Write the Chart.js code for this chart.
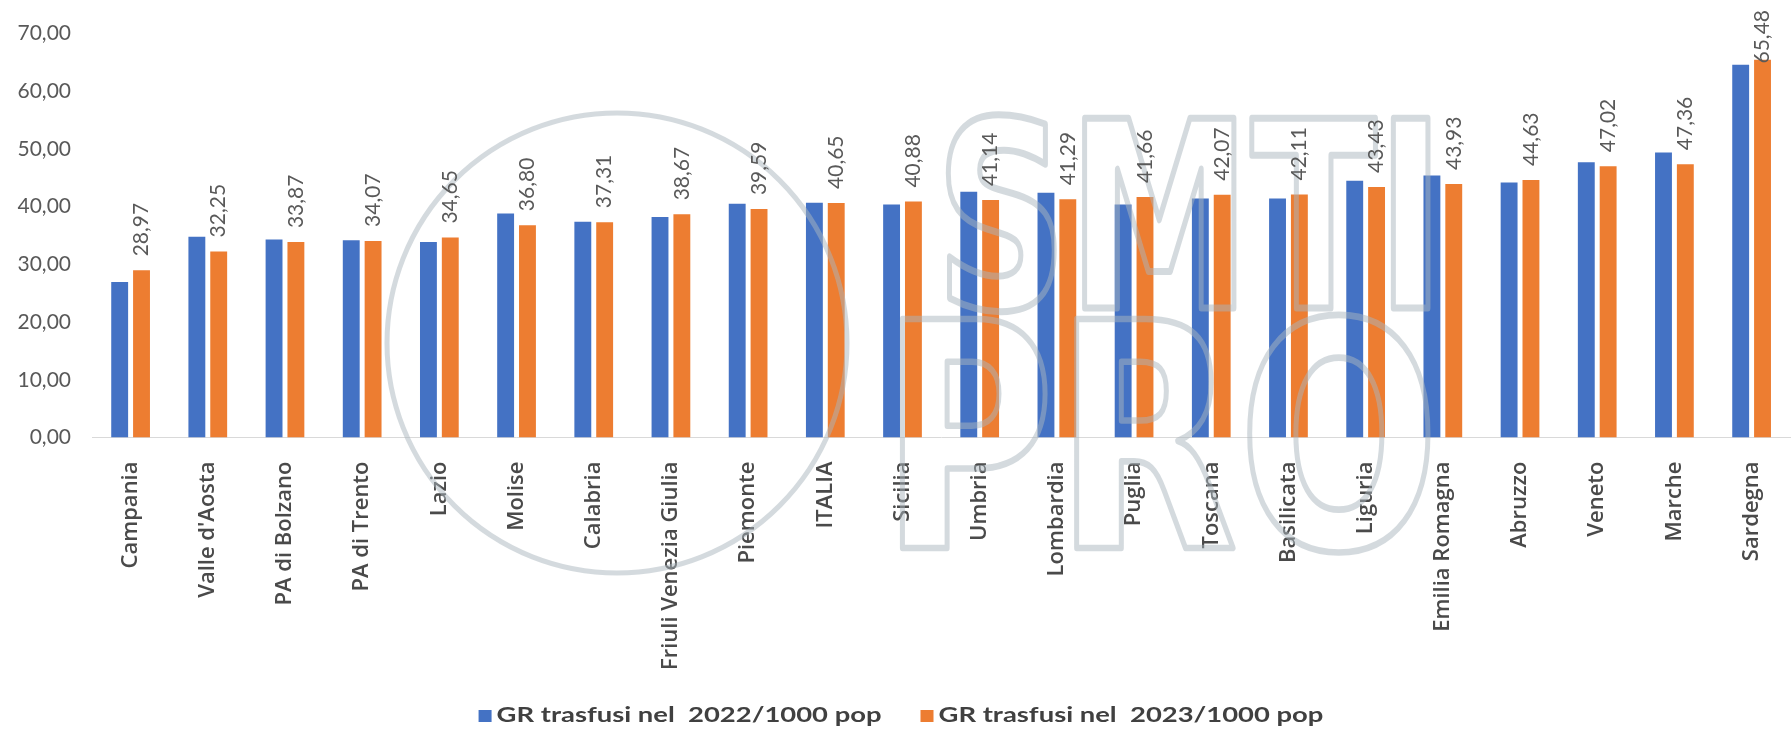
<!DOCTYPE html>
<html>
<head>
<meta charset="utf-8">
<script src="https://cdn.jsdelivr.net/npm/chart.js@4.4.1/dist/chart.umd.min.js"></script>
<style>
  html, body { margin: 0; padding: 0; background: #ffffff; overflow: hidden; }
  #wrap { position: relative; width: 1802px; height: 735px; }
</style>
</head>
<body>
<div id="wrap"><canvas id="chart"></canvas></div>
<script>
// Regions, ordered by the 2023 rate
const regions = ['Campania', "Valle d'Aosta", 'PA di Bolzano', 'PA di Trento', 'Lazio', 'Molise',
  'Calabria', 'Friuli Venezia Giulia', 'Piemonte', 'ITALIA', 'Sicilia', 'Umbria', 'Lombardia',
  'Puglia', 'Toscana', 'Basilicata', 'Liguria', 'Emilia Romagna', 'Abruzzo', 'Veneto', 'Marche', 'Sardegna'];

// Red cell units transfused per 1000 inhabitants
const gr2022 = [26.97, 34.80, 34.30, 34.20, 33.90, 38.80, 37.40, 38.20, 40.50, 40.70, 40.40,
  42.60, 42.40, 40.40, 41.40, 41.40, 44.50, 45.40, 44.20, 47.70, 49.40, 64.60];
const gr2023 = [28.97, 32.25, 33.87, 34.07, 34.65, 36.80, 37.31, 38.67, 39.59, 40.65, 40.88,
  41.14, 41.29, 41.66, 42.07, 42.11, 43.43, 43.93, 44.63, 47.02, 47.36, 65.48];

const yTicks = [0, 10, 20, 30, 40, 50, 60, 70];
const seriesNames = ['GR trasfusi nel  2022/1000 pop', 'GR trasfusi nel  2023/1000 pop'];
const seriesColors = ['#4472C4', '#ED7D31'];

const fmt = v => v.toFixed(2).replace('.', ',');

// Faint outlined society mark behind the labels
const watermark = {
  id: 'watermark',
  afterDatasetsDraw(chart) {
    const ctx = chart.ctx;
    const outlined = (txt, left, bottom, w, h) => {
      ctx.font = 'bold 200px "DejaVu Sans"';
      const m = ctx.measureText(txt);
      const tw = m.actualBoundingBoxRight + m.actualBoundingBoxLeft;
      const th = m.actualBoundingBoxAscent;
      ctx.save();
      ctx.translate(left, bottom);
      ctx.scale(w / tw, h / th);
      ctx.lineWidth = 5 * tw / w;
      ctx.strokeText(txt, m.actualBoundingBoxLeft, 0);
      ctx.restore();
    };
    ctx.save();
    ctx.globalAlpha = 0.5;
    ctx.strokeStyle = '#aab6bd';
    ctx.lineJoin = 'round';
    outlined('SMTI', 948, 308, 480, 194);
    outlined('PRO', 902, 548, 526, 234);
    ctx.lineWidth = 5;
    ctx.beginPath();
    ctx.arc(617, 343, 230, 0, Math.PI * 2);
    ctx.stroke();
    ctx.restore();
  }
};

// Vertical value labels above the 2023 bars
const valueLabels = {
  id: 'valueLabels',
  afterDatasetsDraw(chart) {
    const meta = chart.getDatasetMeta(1);
    const ctx = chart.ctx;
    ctx.save();
    ctx.font = '21px Lato';
    ctx.fillStyle = '#595959';
    ctx.textAlign = 'left';
    ctx.textBaseline = 'middle';
    meta.data.forEach((bar, i) => {
      const txt = fmt(gr2023[i]);
      const w = ctx.measureText(txt).width;
      let y0 = bar.y - 14;
      if (y0 - w < 10) y0 = w + 10;   // keep the tallest label inside the canvas
      ctx.save();
      ctx.translate(bar.x, y0);
      ctx.rotate(-Math.PI / 2);
      ctx.fillText(txt, 0, 0);
      ctx.restore();
    });
    ctx.restore();
  }
};

// Legend below the axis labels, with wide bold lettering
const wideLegend = {
  id: 'wideLegend',
  afterDraw(chart) {
    const ctx = chart.ctx;
    const sx = 1.37, box = 13, gapText = 5, gapItem = 39;
    const yMid = chart.height - 19;
    ctx.save();
    ctx.font = 'bold 20px Lato';
    ctx.textBaseline = 'middle';
    ctx.textAlign = 'left';
    const widths = seriesNames.map(t => ctx.measureText(t).width * sx);
    const total = widths.reduce((a, w) => a + box + gapText + w, 0) + gapItem * (seriesNames.length - 1);
    let x = chart.width / 2 - total / 2;
    seriesNames.forEach((t, i) => {
      ctx.fillStyle = seriesColors[i];
      ctx.fillRect(x, yMid - 6, box, 12);
      ctx.fillStyle = '#404040';
      ctx.save();
      ctx.translate(x + box + gapText, yMid);
      ctx.scale(sx, 1);
      ctx.fillText(t, 0, 0);
      ctx.restore();
      x += box + gapText + widths[i] + gapItem;
    });
    ctx.restore();
  }
};

new Chart(document.getElementById('chart'), {
  type: 'bar',
  data: {
    labels: regions,
    datasets: [
      { label: seriesNames[0], data: gr2022, backgroundColor: seriesColors[0], borderWidth: 0,
        categoryPercentage: 0.566, barPercentage: 0.773 },
      { label: seriesNames[1], data: gr2023, backgroundColor: seriesColors[1], borderWidth: 0,
        categoryPercentage: 0.566, barPercentage: 0.773 }
    ]
  },
  options: {
    responsive: true,
    maintainAspectRatio: false,
    animation: false,
    layout: { padding: { top: 28.6, left: 10, right: 0, bottom: 0 } },
    plugins: {
      tooltip: { enabled: false },
      legend: { display: false }
    },
    scales: {
      x: {
        grid: { display: false, drawTicks: false },
        border: { display: true, color: '#d9d9d9', width: 1 },
        ticks: {
          autoSkip: false,
          minRotation: 90,
          maxRotation: 90,
          padding: 24,
          color: '#4a4a4a',
          font: { family: 'Open Sans', size: 22, weight: '600' }
        },
        afterFit(scale) { scale.height = 297.5; }
      },
      y: {
        min: 0,
        max: 70,
        grid: { display: false, drawTicks: false },
        border: { display: false },
        afterBuildTicks(scale) { scale.ticks = yTicks.map(v => ({ value: v })); },
        ticks: {
          padding: 21,
          color: '#595959',
          font: { family: 'Lato', size: 21 },
          callback: v => fmt(v)
        },
        afterFit(scale) { scale.width = 82; }
      }
    }
  },
  plugins: [watermark, valueLabels, wideLegend]
});
</script>
</body>
</html>
